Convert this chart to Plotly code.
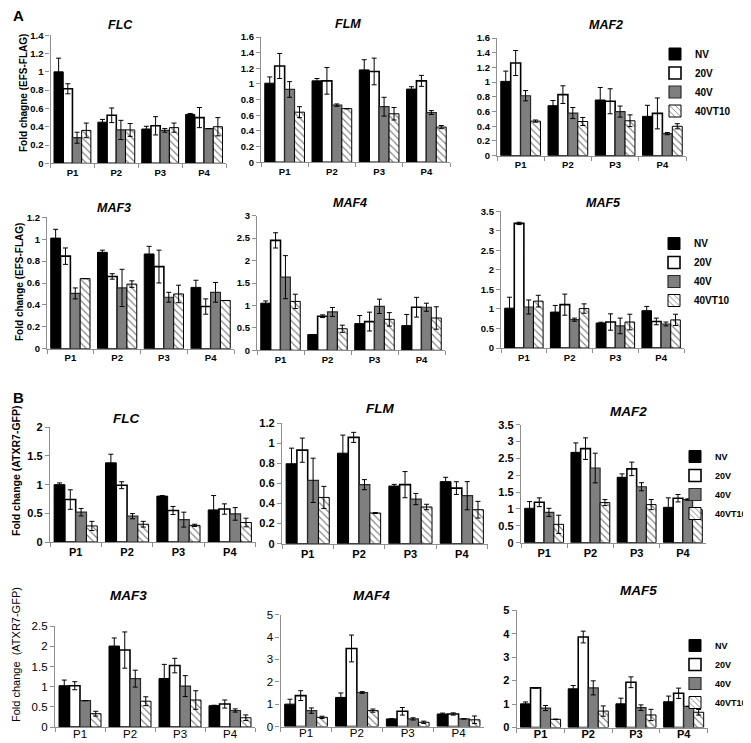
import plotly.graph_objects as go

W, H = 751, 743
categories = ["P1", "P2", "P3", "P4"]
series_names = ["NV", "20V", "40V", "40VT10"]

# ---- Panel A (EFS-FLAG) : rows = NV, 20V, 40V, 40VT10 ----
a_flc_mean = [[1.0, 0.45, 0.375, 0.535], [0.815, 0.525, 0.41, 0.5], [0.28, 0.365, 0.36, 0.38], [0.36, 0.365, 0.39, 0.40]]
a_flc_err = [[0.15, 0.03, 0.03, 0.01], [0.055, 0.08, 0.1, 0.11], [0.06, 0.105, 0.02, 0.0], [0.08, 0.07, 0.05, 0.1]]

a_flm_mean = [[1.01, 1.04, 1.18, 0.935], [1.23, 1.04, 1.16, 1.04], [0.93, 0.73, 0.71, 0.635], [0.64, 0.685, 0.62, 0.45]]
a_flm_err = [[0.08, 0.03, 0.13, 0.03], [0.16, 0.17, 0.17, 0.07], [0.1, 0.015, 0.12, 0.025], [0.07, 0.0, 0.08, 0.02]]

a_maf2_mean = [[1.01, 0.68, 0.757, 0.535], [1.26, 0.83, 0.74, 0.575], [0.815, 0.58, 0.6, 0.3], [0.47, 0.465, 0.475, 0.4]]
a_maf2_err = [[0.14, 0.07, 0.17, 0.15], [0.17, 0.12, 0.17, 0.21], [0.07, 0.075, 0.075, 0.015], [0.015, 0.055, 0.08, 0.035]]

a_maf3_mean = [[1.01, 0.88, 0.865, 0.56], [0.845, 0.66, 0.75, 0.385], [0.505, 0.555, 0.47, 0.515], [0.64, 0.59, 0.5, 0.44]]
a_maf3_err = [[0.08, 0.02, 0.07, 0.065], [0.075, 0.025, 0.15, 0.07], [0.05, 0.17, 0.045, 0.09], [0.0, 0.03, 0.08, 0.0]]

a_maf4_mean = [[1.05, 0.35, 0.595, 0.55], [2.45, 0.76, 0.64, 0.96], [1.63, 0.855, 0.98, 0.96], [1.09, 0.48, 0.69, 0.72]]
a_maf4_err = [[0.05, 0.0, 0.18, 0.25], [0.17, 0.03, 0.21, 0.22], [0.48, 0.1, 0.16, 0.09], [0.16, 0.08, 0.15, 0.25]]

a_maf5_mean = [[1.02, 0.92, 0.64, 0.955], [3.19, 1.11, 0.665, 0.68], [1.05, 0.725, 0.565, 0.615], [1.2, 1.01, 0.665, 0.72]]
a_maf5_err = [[0.28, 0.17, 0.02, 0.11], [0.03, 0.27, 0.21, 0.085], [0.18, 0.04, 0.2, 0.05], [0.15, 0.12, 0.2, 0.145]]

# ---- Panel B (ATXR7-GFP) ----
b_flc_mean = [[1.0, 1.38, 0.8, 0.56], [0.74, 0.99, 0.55, 0.575], [0.52, 0.45, 0.39, 0.49], [0.28, 0.31, 0.29, 0.34]]
b_flc_err = [[0.03, 0.15, 0.01, 0.25], [0.17, 0.06, 0.07, 0.09], [0.065, 0.045, 0.13, 0.11], [0.08, 0.05, 0.02, 0.075]]

b_flm_mean = [[0.795, 0.9, 0.573, 0.617], [0.93, 1.057, 0.587, 0.553], [0.63, 0.587, 0.444, 0.477], [0.46, 0.305, 0.365, 0.338]]
b_flm_err = [[0.155, 0.18, 0.017, 0.043], [0.12, 0.05, 0.13, 0.063], [0.22, 0.05, 0.056, 0.14], [0.11, 0.005, 0.027, 0.083]]

b_maf2_mean = [[1.02, 2.68, 1.94, 1.05], [1.2, 2.79, 2.19, 1.32], [0.9, 2.215, 1.66, 1.28], [0.545, 1.19, 1.13, 0.98]]
b_maf2_err = [[0.2, 0.28, 0.1, 0.28], [0.13, 0.32, 0.2, 0.11], [0.12, 0.44, 0.12, 0.02], [0.27, 0.09, 0.15, 0.0]]

b_maf3_mean = [[1.025, 2.01, 1.205, 0.53], [1.025, 1.91, 1.525, 0.57], [0.655, 1.2, 1.015, 0.41], [0.33, 0.64, 0.67, 0.23]]
b_maf3_err = [[0.14, 0.2, 0.35, 0.01], [0.1, 0.45, 0.18, 0.1], [0.0, 0.21, 0.26, 0.04], [0.06, 0.11, 0.23, 0.07]]

b_maf4_mean = [[1.0, 1.3, 0.34, 0.56], [1.38, 3.49, 0.68, 0.56], [0.71, 1.52, 0.34, 0.34], [0.41, 0.71, 0.19, 0.3]]
b_maf4_err = [[0.22, 0.2, 0.0, 0.04], [0.22, 0.6, 0.17, 0.05], [0.12, 0.04, 0.05, 0.0], [0.05, 0.07, 0.05, 0.17]]

b_maf5_mean = [[1.01, 1.65, 1.01, 1.1], [1.69, 3.86, 1.93, 1.46], [0.83, 1.69, 0.845, 0.9], [0.35, 0.7, 0.535, 0.65]]
b_maf5_err = [[0.08, 0.14, 0.24, 0.24], [0.0, 0.25, 0.23, 0.22], [0.11, 0.3, 0.12, 0.0], [0.0, 0.22, 0.24, 0.12]]

FONT = "Liberation Sans, Arial, sans-serif"

# panel geometry in pixels: x0, x1, y_bottom, y_top, ymax, dtick, title, title x, title y, size, weight, legend
panels = [
    (a_flc_mean, a_flc_err, 42.5, 218, 155.3, 27.3, 1.4, 0.2, "FLC", 112, 17, 9.5, "bold", None),
    (a_flm_mean, a_flm_err, 253, 442, 154.3, 29, 1.6, 0.2, "FLM", 340, 16, 9.5, "bold", None),
    (a_maf2_mean, a_maf2_err, 489, 678, 147.7, 30, 1.6, 0.2, "MAF2", 598, 17, 9.5, "bold", ("legend", 647, 31.5, 10)),
    (a_maf3_mean, a_maf3_err, 39, 226, 340.7, 209.3, 1.2, 0.2, "MAF3", 106, 200, 9.5, "bold", None),
    (a_maf4_mean, a_maf4_err, 249, 437, 342.3, 207.7, 3, 0.5, "MAF4", 342, 195, 9.5, "bold", None),
    (a_maf5_mean, a_maf5_err, 493, 676, 340, 203.3, 3.5, 0.5, "MAF5", 595, 195, 9.5, "bold", ("legend2", 646, 221, 10)),
    (b_flc_mean, b_flc_err, 42, 247.5, 534, 419.3, 2, 0.5, "FLC", 118, 410, 11, "bold", None),
    (b_flm_mean, b_flm_err, 274, 479.5, 535.7, 415, 1.2, 0.2, "FLM", 372, 400, 11, "bold", None),
    (b_maf2_mean, b_maf2_err, 513, 698, 534.7, 416.7, 3.5, 0.5, "MAF2", 620, 403, 11, "bold", ("legend3", 667, 434, 9)),
    (b_maf3_mean, b_maf3_err, 47, 247, 719, 618.3, 2.5, 0.5, "MAF3", 120, 587, 11.5, "normal", None),
    (b_maf4_mean, b_maf4_err, 272.6, 476, 718.5, 606.7, 5, 1, "MAF4", 363, 587, 11.5, "normal", None),
    (b_maf5_mean, b_maf5_err, 508.7, 699.5, 719.5, 602.3, 5, 1, "MAF5", 630, 582, 11, "bold", ("legend4", 667, 623, 9)),
]

styles = [
    dict(color="black", line=dict(color="black", width=1)),
    dict(color="white", line=dict(color="black", width=1.6)),
    dict(color="#7f7f7f", line=dict(color="#2a2a2a", width=1.2)),
    dict(color="white", line=dict(color="black", width=1),
         pattern=dict(shape="\\", fgcolor="black", bgcolor="white", size=5, solidity=0.22)),
]

fig = go.Figure()
layout = dict(
    width=W, height=H, margin=dict(l=0, r=0, t=0, b=0, autoexpand=False),
    paper_bgcolor="white", plot_bgcolor="white",
    barmode="group", bargap=0.16, bargroupgap=0.0,
    font=dict(family=FONT, color="black"),
    showlegend=True,
)
annotations = []

for i, (means, errs, x0, x1, yb, yt, ymax, dtick, title, tx, ty, fs, fw, leg) in enumerate(panels, start=1):
    xa = "x" if i == 1 else f"x{i}"
    ya = "y" if i == 1 else f"y{i}"
    for s, name in enumerate(series_names):
        fig.add_trace(go.Bar(
            x=categories, y=means[s], name=name,
            xaxis=xa, yaxis=ya,
            marker=styles[s],
            error_y=dict(type="data", array=errs[s], visible=True, color="black", thickness=1, width=2.5),
            showlegend=leg is not None,
            legend=leg[0] if leg else "legend",
        ))
    tickfont = dict(family=FONT, size=fs, color="black", weight=fw)
    layout["xaxis" if i == 1 else f"xaxis{i}"] = dict(
        domain=[x0 / W, x1 / W], anchor=ya, type="category", range=[-0.5, 3.5],
        showline=True, linecolor="#8f8f8f", linewidth=1.3, ticks="outside", tickson="boundaries",
        ticklen=4, tickcolor="#8f8f8f", showgrid=False, zeroline=False, tickfont=tickfont,
        fixedrange=True, automargin=False,
        ticklabelstandoff=-4 if i >= 10 else 0,
    )
    layout["yaxis" if i == 1 else f"yaxis{i}"] = dict(
        domain=[1 - yb / H, 1 - yt / H], anchor=xa, range=[0, ymax], dtick=dtick, tick0=0,
        showline=True, linecolor="#8f8f8f", linewidth=1.3, ticks="outside", ticklen=4,
        tickcolor="#8f8f8f", showgrid=False, zeroline=False, tickfont=tickfont, fixedrange=True,
        automargin=False,
    )
    annotations.append(dict(
        text=f"<b><i>{title}</i></b>", x=tx / W, y=1 - ty / H, xref="paper", yref="paper",
        xanchor="center", yanchor="middle", showarrow=False,
        font=dict(family=FONT, size=12.5 if i <= 6 else 13.5, color="black"),
    ))
    if leg:
        lname, lx, ly, lfs = leg
        layout[lname] = dict(
            x=lx / W, y=1 - ly / H, xanchor="left", yanchor="top", xref="paper", yref="paper",
            bgcolor="rgba(0,0,0,0)", itemwidth=30, tracegroupgap=0,
            font=dict(family=FONT, size=lfs, color="black", weight="bold"),
        )

# panel letters
annotations.append(dict(text="<b>A</b>", x=3 / W, y=1 - 8 / H, xref="paper", yref="paper",
                        xanchor="left", yanchor="middle", showarrow=False,
                        font=dict(family=FONT, size=15, color="black")))
annotations.append(dict(text="<b>B</b>", x=3 / W, y=1 - 389 / H, xref="paper", yref="paper",
                        xanchor="left", yanchor="middle", showarrow=False,
                        font=dict(family=FONT, size=15, color="black")))

# y axis titles
ytitles = [
    ("Fold chagne (EFS-FLAG)", 15, 85, 10, "bold"),
    ("Fold change (EFS-FLAG)", 11, 274, 10, "bold"),
    ("Fold change (ATXR7-GFP)", 8, 463, 10.5, "bold"),
    ("Fold change  (ATXR7-GFP)", 8, 647, 11, "normal"),
]
for txt, px, py, fs, fw in ytitles:
    annotations.append(dict(text=txt, x=px / W, y=1 - py / H, xref="paper", yref="paper",
                            xanchor="center", yanchor="middle", showarrow=False, textangle=-90,
                            font=dict(family=FONT, size=fs, color="black", weight=fw)))

layout["annotations"] = annotations
fig.update_layout(**layout)
fig.write_html("out.html")
